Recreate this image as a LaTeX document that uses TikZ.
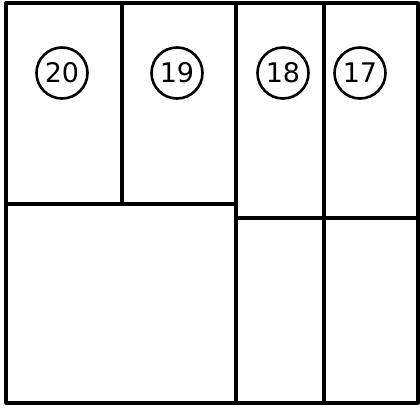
\documentclass[tikz,border=0pt]{standalone}
\usepackage{fontspec}
\setsansfont{DejaVu Sans}
\begin{document}
\begin{tikzpicture}[x=1pt,y=-1pt,
  wall/.style={line width=3.2pt,line cap=round,line join=round,black},
  num/.style={circle,draw,line width=2.6pt,minimum size=51pt,inner sep=0pt,
    font=\sffamily\fontsize{27}{27}\selectfont}]
\useasboundingbox (0,0) rectangle (420,407);
\draw[wall] (6,3) rectangle (418,403);
\draw[wall] (122,3) -- (122,204);
\draw[wall] (6,204) -- (236,204);
\draw[wall] (236,3) -- (236,403);
\draw[wall] (324,3) -- (324,403);
\draw[wall] (236,218) -- (418,218);
\node[num] (n20) at (62,73) {20};
\node[num] (n19) at (177,73) {19};
\node[num] (n18) at (283,73) {18};
\node[num] (n17) at (360,73) {17};
\end{tikzpicture}
\end{document}
